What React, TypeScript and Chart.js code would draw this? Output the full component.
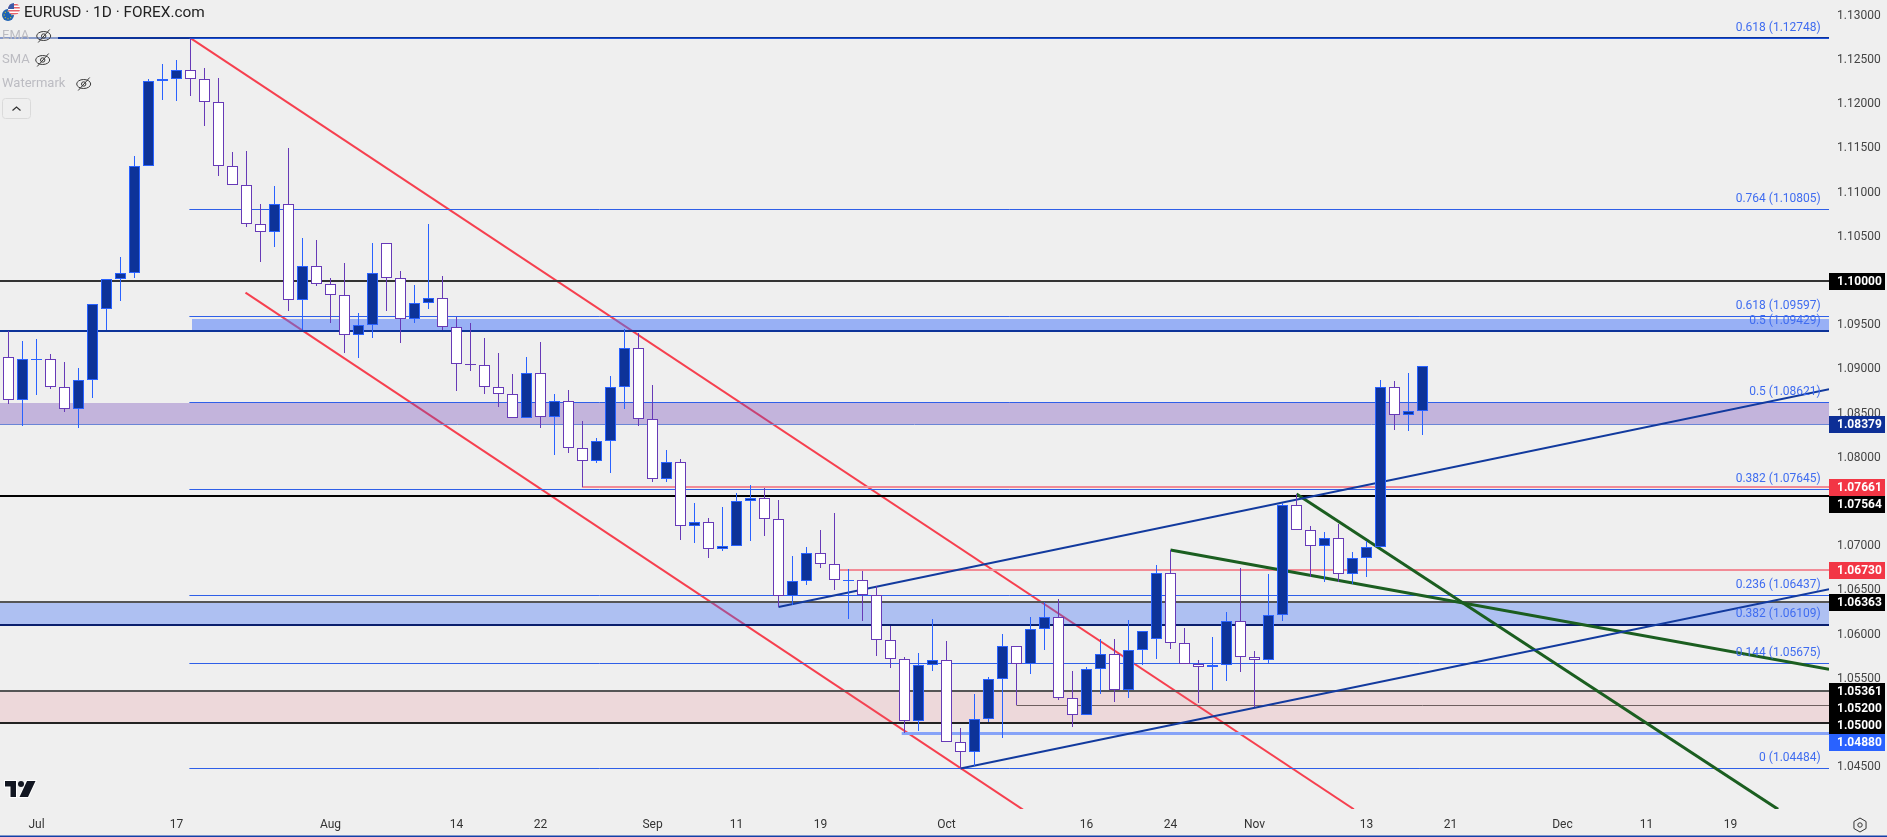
import React, { useEffect, useRef } from "react";
import { Chart, registerables } from "chart.js";

Chart.register(...registerables);

// ---- candles (trading-day index = array position) ----
const opens = [1.09137,1.08650,1.09110,1.09114,1.08798,1.08549,1.08877,1.09680,1.10019,1.10087,1.11298,1.12259,1.12282,1.12383,1.12282,1.12021,1.11298,1.11083,1.10641,1.10551,1.10868,1.09782,1.10166,1.09969,1.09845,1.09386,1.09499,1.10427,1.10031,1.09567,
1.09748,1.09804,1.09476,1.09060,1.09046,1.08798,1.08718,1.08447,1.08956,1.08458,1.08639,1.08107,1.07960,1.08187,1.08798,1.09239,1.08436,1.07757,1.07949,1.07225,1.07270,1.06965,1.06999,1.07508,1.07542,1.07304,
1.06433,1.06603,1.06920,1.06795,1.06610,1.06614,1.06451,1.05936,1.05721,1.05019,1.05653,1.05709,1.04782,1.04669,1.05042,1.05494,1.05868,1.05664,1.06060,1.06196,1.05280,1.05087,1.05608,1.05777,1.05370,1.05822,
1.05947,1.06693,1.05902,1.05664,1.05630,1.05653,1.06151,1.05743,1.05709,1.06218,1.07463,1.07180,1.06999,1.07089,1.06682,1.06863,1.06988,1.08798,1.08481,1.08526];
const closes = [1.08650,1.09114,1.09118,1.08798,1.08549,1.08877,1.09736,1.10019,1.10087,1.11298,1.12259,1.12282,1.12383,1.12282,1.12021,1.11298,1.11083,1.10641,1.10551,1.10868,1.09782,1.10166,1.09969,1.09845,1.09386,1.09499,1.10087,1.10031,1.09567,1.09748,
1.09804,1.09476,1.09058,1.09050,1.08798,1.08718,1.08447,1.08956,1.08458,1.08639,1.08107,1.07960,1.08187,1.08798,1.09239,1.08436,1.07757,1.07949,1.07225,1.07270,1.06965,1.06999,1.07508,1.07542,1.07304,1.06433,
1.06603,1.06920,1.06795,1.06614,1.06618,1.06451,1.05936,1.05721,1.05019,1.05653,1.05709,1.04782,1.04669,1.05042,1.05494,1.05868,1.05664,1.06060,1.06196,1.05280,1.05087,1.05608,1.05777,1.05370,1.05822,1.06037,
1.06693,1.05902,1.05664,1.05630,1.05653,1.06151,1.05743,1.05709,1.06218,1.07463,1.07180,1.06999,1.07089,1.06682,1.06863,1.06988,1.08798,1.08481,1.08526,1.09035];
const highs = [1.09434,1.09321,1.09344,1.09174,1.09084,1.09016,1.09740,1.10025,1.10271,1.11414,1.12282,1.12455,1.12500,1.12748,1.12409,1.12296,1.11459,1.11471,1.10871,1.11075,1.11505,1.10486,1.10464,1.10034,1.10204,1.09638,1.10430,1.10430,1.10113,1.09955,
1.10645,1.10057,1.09596,1.09525,1.09355,1.09186,1.08948,1.09140,1.09310,1.08722,1.08767,1.08416,1.08224,1.08925,1.09457,1.09412,1.08824,1.08088,1.07986,1.07489,1.07319,1.07444,1.07602,1.07692,1.07658,1.07523,
1.06889,1.06991,1.07183,1.07376,1.06739,1.06720,1.06550,1.06101,1.05747,1.05792,1.06177,1.05928,1.04944,1.05328,1.05520,1.06007,1.05868,1.06199,1.06369,1.06403,1.05588,1.05634,1.05950,1.05950,1.06165,1.06037,
1.06787,1.06957,1.06075,1.05713,1.05973,1.06256,1.06753,1.05815,1.06686,1.07489,1.07591,1.07229,1.07161,1.07251,1.06934,1.07059,1.08880,1.08869,1.08959,1.09035];
const lows = [1.08609,1.08363,1.08710,1.08778,1.08522,1.08341,1.08680,1.09446,1.09777,1.10037,1.11298,1.12048,1.12036,1.12093,1.11753,1.11188,1.11083,1.10611,1.10215,1.10385,1.09661,1.09446,1.09943,1.09528,1.09189,1.09132,1.09359,1.09661,1.09302,1.09528,
1.09687,1.09446,1.08759,1.08985,1.08722,1.08578,1.08447,1.08447,1.08341,1.08035,1.08058,1.07670,1.07945,1.07831,1.08555,1.08363,1.07730,1.07730,1.07070,1.07036,1.06870,1.06949,1.06999,1.07059,1.07115,1.06312,
1.06338,1.06561,1.06757,1.06508,1.06180,1.06154,1.05758,1.05622,1.04887,1.04910,1.05588,1.04782,1.04484,1.04514,1.05008,1.04830,1.05200,1.05554,1.05826,1.05260,1.04955,1.05087,1.05328,1.05238,1.05283,1.05656,
1.05724,1.05837,1.05664,1.05223,1.05373,1.05479,1.05577,1.05184,1.05679,1.06154,1.07180,1.06655,1.06599,1.06599,1.06569,1.06655,1.06988,1.08318,1.08307,1.08261];

// ---- axes ----
const xTickIndex = [2,12,23,32,38,46,52,58,67,77,83,89,97,103,111,117,123];
const xTickLabels = ["Jul","17","Aug","14","22","Sep","11","19","Oct","16","24","Nov","13","21","Dec","11","19"];
const priceTicks = [1.045,1.05,1.055,1.06,1.065,1.07,1.075,1.08,1.085,1.09,1.095,1.1,1.105,1.11,1.115,1.12,1.125,1.13];
const xMin = -0.60714;
const xMax = 130.0357;
const yMin = 1.04027;
const yMax = 1.13179;

// ---- fibonacci levels ----
const fibRatios = ["0.618","0.764","0.618","0.5","0.5","0.382","0.236","0.382","0.144","0"];
const fibPrices = [1.12748,1.10805,1.09597,1.09429,1.08621,1.07645,1.06437,1.06109,1.05675,1.04484];

// ---- price tags on the right axis ----
const blackTags = [1.1,1.07564,1.06363,1.05361,1.052,1.05];
const redTags = [1.07661,1.0673];
const navyTags = [1.08379];
const blueTags = [1.0488];

// ---- drawn trend lines: [bar index, price] ----
const channelUpper = [[13,1.12748],[96.1,1.04024]];
const channelLower = [[16.93,1.09868],[72.46,1.0402]];
const navyUpper = [[55,1.06312],[130.04,1.08775]];
const navyLower = [[68,1.04484],[130.04,1.06512]];
const greenShallow = [[83,1.06957],[130.04,1.05608]];
const greenSteep = [[92,1.07591],[126.4,1.04024]];

// ---- header ----
const titleText = "EURUSD · 1D · FOREX.com";
const legendNames = ["EMA","SMA","Watermark"];

const FONT = "Roboto, 'Liberation Sans', sans-serif";
const BG = "#efefef";
const NAVY = "#0d3399";
const BLUE = "#2962ff";
const FIB = "#2f5fe8";
const PURPLE = "#673ab7";
const RED = "#f23645";
const GREEN = "#1b5e20";

function hLine(price: number, from: number, color: string, width: number, order: number) {
  return {
    type: "line", order, snap: true,
    data: [{ x: from, y: price }, { x: xMax, y: price }],
    borderColor: color, borderWidth: width, pointRadius: 0, fill: false,
  };
}
function band(low: number, high: number, from: number, color: string, order: number) {
  return {
    type: "line", order,
    data: [{ x: from, y: high }, { x: xMax, y: high }],
    borderWidth: 0, borderColor: "transparent", pointRadius: 0,
    fill: { value: low }, backgroundColor: color,
  };
}
function trend(pts: number[][], color: string, width: number, order: number) {
  return {
    type: "line", order,
    data: pts.map(([x, y]) => ({ x, y })),
    borderColor: color, borderWidth: width, pointRadius: 0, fill: false,
  };
}

const snapPlugin = {
  id: "snap",
  afterDatasetsUpdate(chart: any) {
    chart.data.datasets.forEach((ds: any, i: number) => {
      const meta = chart.getDatasetMeta(i);
      if (ds.type === "bar") {
        meta.data.forEach((el: any) => {
          let y = Math.round(el.y);
          let b = Math.round(el.base);
          if (y === b) b = y + 1;
          el.y = y;
          el.base = b;
          el.height = b - y;
        });
      } else if (ds.snap) {
        const odd = ds.borderWidth % 2 === 1;
        meta.data.forEach((el: any) => {
          el.y = odd ? Math.floor(el.y) + 0.5 : Math.round(el.y - 0.4);
        });
      }
    });
  },
};

function eyeOff(ctx: any, cx: number, cy: number) {
  ctx.save();
  ctx.strokeStyle = "#3a3a3a";
  ctx.lineWidth = 1;
  ctx.beginPath();
  ctx.ellipse(cx, cy, 7, 4.5, 0, 0, Math.PI * 2);
  ctx.stroke();
  ctx.beginPath();
  ctx.arc(cx, cy, 2.2, 0, Math.PI * 2);
  ctx.stroke();
  ctx.beginPath();
  ctx.moveTo(cx - 5.5, cy + 6.5);
  ctx.lineTo(cx + 6, cy - 6.5);
  ctx.stroke();
  ctx.restore();
}

const overlayPlugin = {
  id: "overlay",
  afterDatasetsDraw(chart: any) {
    const { ctx, scales } = chart;
    const y = scales.y;
    ctx.save();
    ctx.font = `12px ${FONT}`;
    ctx.textAlign = "right";
    ctx.textBaseline = "middle";
    ctx.fillStyle = "#3f6cf0";
    fibPrices.forEach((p, i) => {
      ctx.fillText(`${fibRatios[i]} (${p.toFixed(5)})`, 1820.7, y.getPixelForValue(p) - 10.5);
    });
    ctx.restore();
  },
  afterDraw(chart: any) {
    const { ctx, scales, chartArea } = chart;
    const y = scales.y;
    ctx.save();

    // price tags, stacked so that they do not overlap
    const tags = [
      ...blackTags.map((p) => ({ p, c: "#000000" })),
      ...redTags.map((p) => ({ p, c: RED })),
      ...navyTags.map((p) => ({ p, c: "#0d2f96" })),
      ...blueTags.map((p) => ({ p, c: BLUE })),
    ].sort((a, b) => b.p - a.p);
    let last = -100;
    ctx.font = `bold 12px ${FONT}`;
    ctx.textAlign = "left";
    ctx.textBaseline = "middle";
    tags.forEach((t) => {
      const cy = Math.max(y.getPixelForValue(t.p), last + 17);
      last = cy;
      ctx.fillStyle = t.c;
      ctx.fillRect(chartArea.right, Math.round(cy - 8.5), 56, 17);
      ctx.fillStyle = "#ffffff";
      ctx.fillText(t.p.toFixed(5), chartArea.right + 8, Math.round(cy - 8.5) + 9);
    });

    // bottom edge
    ctx.fillStyle = "#1440a8";
    ctx.fillRect(0, 835.5, 1887, 1.5);

    // settings glyph
    ctx.strokeStyle = "#333333";
    ctx.lineWidth = 1;
    ctx.beginPath();
    for (let i = 0; i < 6; i++) {
      const a = (i * Math.PI) / 3;
      const px = 1860 + 7 * Math.sin(a);
      const py = 825 + 7 * Math.cos(a);
      if (i === 0) ctx.moveTo(px, py);
      else ctx.lineTo(px, py);
    }
    ctx.closePath();
    ctx.stroke();
    ctx.beginPath();
    ctx.arc(1860, 825, 2.2, 0, Math.PI * 2);
    ctx.stroke();

    // header icon
    ctx.fillStyle = "#1e62b4";
    ctx.beginPath();
    ctx.arc(8, 15, 6, 0, Math.PI * 2);
    ctx.fill();
    ctx.fillStyle = "#f5d90a";
    for (let i = 0; i < 8; i++) {
      ctx.fillRect(8 + 3.8 * Math.cos((i * Math.PI) / 4) - 0.5, 15 + 3.8 * Math.sin((i * Math.PI) / 4) - 0.5, 1, 1);
    }
    ctx.save();
    ctx.beginPath();
    ctx.arc(14, 9, 6, 0, Math.PI * 2);
    ctx.clip();
    ctx.fillStyle = "#ffffff";
    ctx.fillRect(8, 3, 12, 12);
    ctx.fillStyle = "#e5636b";
    for (let i = 0; i < 4; i++) ctx.fillRect(8, 4 + i * 3, 12, 1.5);
    ctx.fillStyle = "#3c5aa8";
    ctx.fillRect(8, 3, 6, 6);
    ctx.restore();

    // title
    ctx.fillStyle = "#222222";
    ctx.font = `15.4px ${FONT}`;
    ctx.textAlign = "left";
    ctx.textBaseline = "middle";
    ctx.fillText(titleText, 24, 13);

    // legend rows
    ctx.fillStyle = "rgba(239,239,239,0.55)";
    ctx.fillRect(0, 28, 58, 17);
    const rowY = [36, 60, 84];
    const iconX = [43.7, 42.7, 83.7];
    ctx.font = `13px ${FONT}`;
    legendNames.forEach((n, i) => {
      ctx.fillStyle = "#bcbcc2";
      ctx.fillText(n, 2, rowY[i]);
      eyeOff(ctx, iconX[i], rowY[i]);
    });
    ctx.strokeStyle = "#dadada";
    ctx.beginPath();
    ctx.roundRect(2.5, 98.5, 28, 20, 3);
    ctx.stroke();
    ctx.strokeStyle = "#333333";
    ctx.lineWidth = 1.2;
    ctx.beginPath();
    ctx.moveTo(12.5, 110.5);
    ctx.lineTo(16.5, 107);
    ctx.lineTo(20.5, 110.5);
    ctx.stroke();

    // TV mark
    const logo = new Path2D("M5 781h11v16h-5.5v-10.5H5z M27 781h8.5l-7.5 16h-8.5z");
    ctx.lineWidth = 2;
    ctx.strokeStyle = "#ffffff";
    ctx.stroke(logo);
    ctx.fillStyle = "#131722";
    ctx.fill(logo);
    ctx.beginPath();
    ctx.arc(21, 784, 3, 0, Math.PI * 2);
    ctx.fill();
    ctx.restore();
  },
};

export default function App() {
  const ref = useRef<HTMLCanvasElement | null>(null);

  useEffect(() => {
    if (!ref.current) return;
    const isUp = opens.map((o, i) => closes[i] >= o);
    const chart = new Chart(ref.current, {
      type: "bar",
      plugins: [snapPlugin, overlayPlugin],
      data: {
        datasets: [
          trend(channelUpper, "#f6404f", 2, 70),
          trend(channelLower, "#f6404f", 2, 70),
          band(1.09429, 1.0957, 13.1, "rgba(65,113,251,0.5)", 60),
          band(1.08379, 1.08621, xMin, "rgba(114,71,185,0.35)", 60),
          band(1.06109, 1.06363, xMin, "rgba(54,105,248,0.35)", 60),
          band(1.05, 1.05361, xMin, "rgba(230,86,100,0.15)", 60),
          hLine(1.12748, xMin, NAVY, 2, 50),
          hLine(1.1, xMin, "#333333", 2, 50),
          hLine(1.09429, xMin, NAVY, 2, 50),
          hLine(1.08379, xMin, "#6a85d6", 1, 50),
          hLine(1.07564, xMin, "#000000", 2, 50),
          hLine(1.06363, xMin, "#555555", 2, 50),
          hLine(1.06109, xMin, "#0a1f6d", 2, 50),
          hLine(1.05361, xMin, "#555555", 2, 50),
          hLine(1.05, xMin, "#222222", 2, 50),
          hLine(1.07661, 40.96, "#f28b96", 2, 49),
          hLine(1.0673, 59.3, "#f28b96", 2, 49),
          hLine(1.052, 72, "#6d5f5f", 1, 49),
          hLine(1.0488, 63.8, "#86a3f8", 3, 49),
          hLine(1.12748, 12.92, "#1a4fd8", 1, 48),
          ...fibPrices
            .filter((p) => p !== 1.12748 && p !== 1.06109 && p !== 1.09429)
            .map((p) => hLine(p, 12.92, FIB, 1, 48)),
          trend(navyUpper, "#123a9e", 2, 40),
          trend(navyLower, "#123a9e", 2, 40),
          trend(greenShallow, GREEN, 3, 40),
          trend(greenSteep, GREEN, 3, 40),
          {
            type: "bar", order: 2, grouped: false, barThickness: 1, inflateAmount: 0,
            data: opens.map((_, i) => ({ x: i, y: [lows[i], highs[i]] })),
            backgroundColor: isUp.map((u) => (u ? BLUE : PURPLE)),
          },
          {
            type: "bar", order: 1, grouped: false, barThickness: 11, inflateAmount: 0,
            borderSkipped: false, borderWidth: 1,
            data: opens.map((o, i) => ({ x: i, y: [o, closes[i]] })),
            backgroundColor: isUp.map((u) => (u ? NAVY : "#ffffff")),
            borderColor: isUp.map((u) => (u ? BLUE : PURPLE)),
          },
        ] as any,
      },
      options: {
        animation: false,
        responsive: false,
        devicePixelRatio: 1,
        events: [],
        layout: { padding: 0 },
        plugins: { legend: { display: false }, tooltip: { enabled: false }, title: { display: false } },
        scales: {
          x: {
            type: "linear",
            offset: false,
            min: xMin,
            max: xMax,
            grid: { display: false, drawTicks: false },
            border: { display: false },
            afterBuildTicks(s: any) {
              s.ticks = xTickIndex.map((value) => ({ value }));
            },
            afterFit(s: any) {
              s.height = 28;
              s.paddingLeft = s.paddingRight = s.paddingTop = s.paddingBottom = 0;
            },
            ticks: {
              autoSkip: false,
              maxRotation: 0,
              padding: 9,
              color: "#333333",
              font: { family: FONT, size: 12 },
              callback: (_v: any, i: number) => xTickLabels[i],
            },
          },
          y: {
            type: "linear",
            position: "right",
            min: yMin,
            max: yMax,
            grid: { display: false, drawTicks: false },
            border: { display: false },
            afterBuildTicks(s: any) {
              s.ticks = priceTicks.map((value) => ({ value }));
            },
            afterFit(s: any) {
              s.width = 58;
              s.paddingLeft = s.paddingRight = s.paddingTop = s.paddingBottom = 0;
            },
            ticks: {
              autoSkip: false,
              padding: 8,
              color: "#444444",
              font: { family: FONT, size: 12 },
              callback: (v: any) => Number(v).toFixed(5),
            },
          },
        },
      } as any,
    });
    return () => chart.destroy();
  }, []);

  return (
    <div style={{ position: "fixed", left: 0, top: 0, width: 1887, height: 837, background: BG, overflow: "hidden" }}>
      <canvas ref={ref} width={1887} height={837} style={{ display: "block", width: 1887, height: 837 }} />
    </div>
  );
}
